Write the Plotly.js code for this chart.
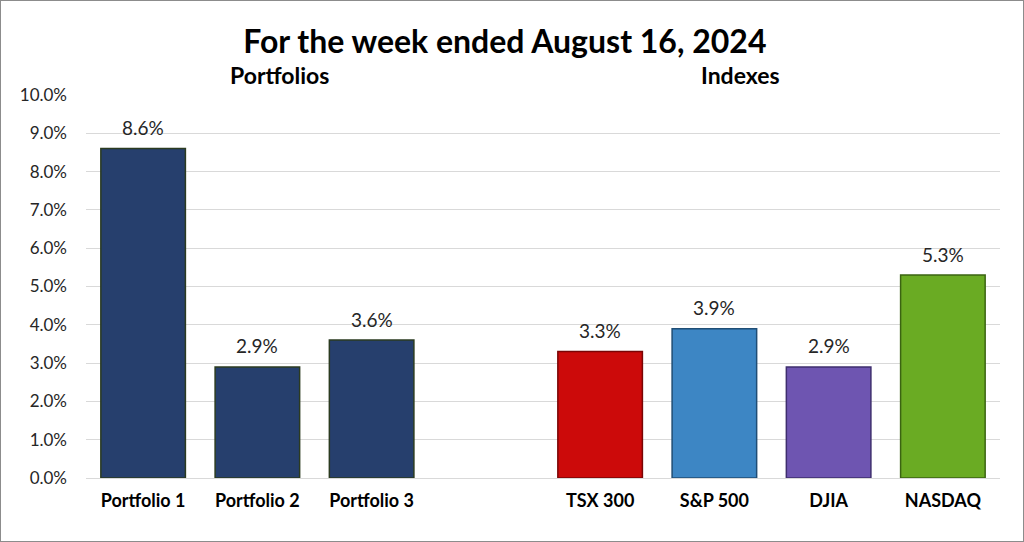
<!DOCTYPE html>
<html><head><meta charset="utf-8">
<script src="https://cdn.plot.ly/plotly-3.0.1.min.js"></script>
<style>
html,body{margin:0;padding:0;background:#fff;}
#chart{width:1024px;height:542px;box-sizing:border-box;border:1px solid #8c8c8c;}
</style></head>
<body><div id="chart"></div>
<script>
const categories = ["Portfolio 1","Portfolio 2","Portfolio 3"," ","TSX 300","S&P 500","DJIA","NASDAQ"];
const values = [8.6, 2.9, 3.6, null, 3.3, 3.9, 2.9, 5.3];
const labels = ["8.6%","2.9%","3.6%","","3.3%","3.9%","2.9%","5.3%"];
const colors = ["#263f6d","#263f6d","#263f6d","#ffffff","#cc0a0a","#3d86c4","#6e55b1","#6aab23"];
const outlines = ["#2b3b20","#2b3b20","#2b3b20","#ffffff","#7a0505","#1f4d75","#3e2e6e","#3b6412"];
const groupTitles = ["Portfolios","Indexes"];
const titleText = "For the week ended August 16, 2024";

const font = "Lato, 'Open Sans', sans-serif";
const annotations = [
  {text: "<b>" + groupTitles[0] + "</b>", xref: "paper", yref: "paper", x: 0.212, y: 1.052,
   showarrow: false, xanchor: "center", yanchor: "middle", font: {family: font, size: 23, color: "#000"}},
  {text: "<b>" + groupTitles[1] + "</b>", xref: "paper", yref: "paper", x: 0.716, y: 1.052,
   showarrow: false, xanchor: "center", yanchor: "middle", font: {family: font, size: 23, color: "#000"}}
];
categories.forEach((c, i) => {
  if (values[i] === null) return;
  annotations.push({text: labels[i], x: c, y: values[i], xref: "x", yref: "y",
    showarrow: false, xanchor: "center", yanchor: "middle", yshift: 21,
    font: {family: font, size: 19, color: "#262626"}});
});
Plotly.newPlot("chart", [{
  type: "bar",
  x: categories,
  y: values,
  marker: {color: colors, line: {color: outlines, width: 1.5}},
  hoverinfo: "none"
}], {
  width: 1022, height: 540,
  margin: {l: 85, r: 23, t: 94, b: 63},
  paper_bgcolor: "#fff", plot_bgcolor: "#fff",
  bargap: 0.26,
  showlegend: false,
  title: {text: "<b>" + titleText + "</b>", x: 0.493, xanchor: "center", y: 0.925, yanchor: "middle",
          font: {family: font, size: 32, color: "#000"}},
  xaxis: {type: "category", showgrid: false, zeroline: false, showline: false,
          ticks: "", ticklabelstandoff: 10,
          tickfont: {family: font, size: 18, color: "#000", weight: "bold"}},
  yaxis: {range: [0, 10], dtick: 1, tickformat: ".1f", ticksuffix: "%",
          showgrid: true, gridcolor: "#d9d9d9", gridwidth: 1, zeroline: true, zerolinecolor: "#d9d9d9",
          showline: false, ticks: "", ticklabelstandoff: 18,
          tickfont: {family: font, size: 17, color: "#262626"}},
  annotations: annotations
}, {displayModeBar: false, staticPlot: true});
</script></body></html>
